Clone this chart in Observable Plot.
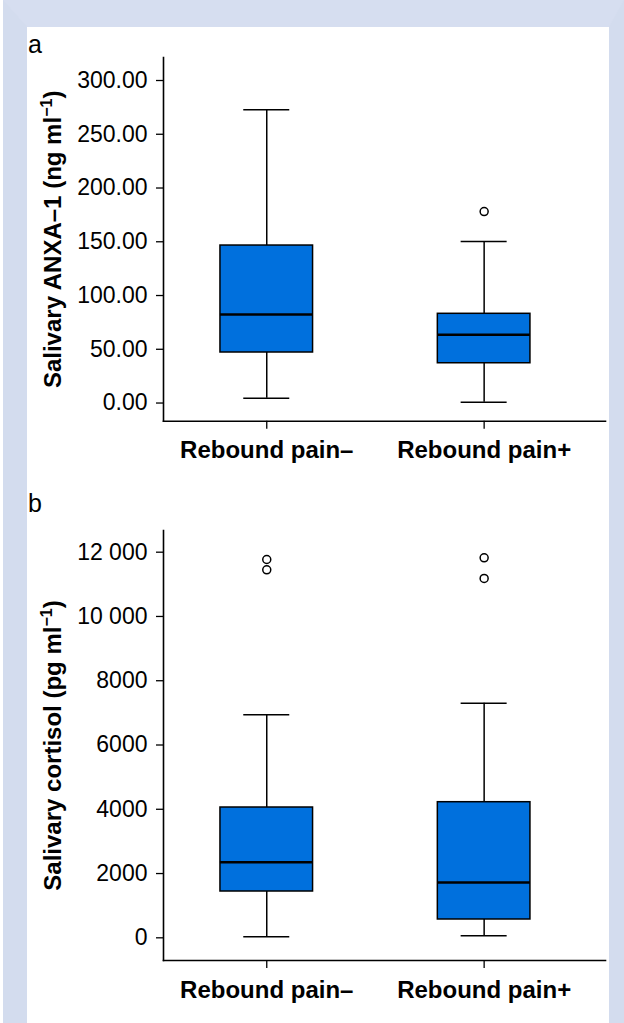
<!DOCTYPE html>
<html><head><meta charset="utf-8">
<script src="https://cdn.jsdelivr.net/npm/d3@7"></script>
<script src="https://cdn.jsdelivr.net/npm/@observablehq/plot@0.6"></script>
<style>
html,body{margin:0;padding:0;background:#fff;}
body{width:624px;height:1023px;position:relative;overflow:hidden;font-family:"Liberation Sans",Arial,sans-serif;}
#frame{position:absolute;left:3px;top:0;width:582px;height:996px;border-top:27px solid #d6def0;border-left:24px solid #d3dcee;border-right:15px solid #d3dcee;background:#fff;}
.panel-label{position:absolute;left:28px;font-size:25px;line-height:25px;color:#000;}
#chartA{position:absolute;left:0;top:40px;}
#chartB{position:absolute;left:0;top:520px;}
</style>
</head><body>
<div id="frame"></div>
<div class="panel-label" style="top:32.1px">a</div>
<div class="panel-label" style="top:490.5px">b</div>
<div id="chartA"></div>
<div id="chartB"></div>
<script>
// ---------- data ----------
const groups = ["Rebound pain–", "Rebound pain+"];

// Panel a: salivary ANXA-1 (ng/ml)
const anxaLow    = [4.5, 0.8];
const anxaQ1     = [47.0, 37.0];
const anxaMedian = [82.3, 63.4];
const anxaQ3     = [146.5, 83.0];
const anxaHigh   = [272.7, 150.2];
const anxaOutlierGroups = ["Rebound pain+"];
const anxaOutlierValues = [178.1];
const anxaTicks = [0, 50, 100, 150, 200, 250, 300];
const anxaLabel = ["Salivary ANXA–1 (ng ml", "−1", ")"];

// Panel b: salivary cortisol (pg/ml)
const cortLow    = [31, 62];
const cortQ1     = [1441, 570];
const cortMedian = [2353, 1721];
const cortQ3     = [4055, 4220];
const cortHigh   = [6940, 7301];
const cortOutlierGroups = ["Rebound pain–", "Rebound pain–", "Rebound pain+", "Rebound pain+"];
const cortOutlierValues = [11773, 11452, 11826, 11182];
const cortTicks = [0, 2000, 4000, 6000, 8000, 10000, 12000];
const cortLabel = ["Salivary cortisol (pg ml", "−1", ")"];

// ---------- helpers ----------
function makeTable(lo, q1, med, q3, hi) {
  return groups.map((g, i) => ({group: g, lo: lo[i], q1: q1[i], med: med[i], q3: q3[i], hi: hi[i]}));
}
function makeOutliers(gs, vs) {
  return gs.map((g, i) => ({group: g, value: vs[i]}));
}

function boxChart({table, outliers, domain, ticks, tickFormat, label, height, marginTop, marginBottom}) {
  const full = label.join("");
  const svg = Plot.plot({
    width: 624, height, marginLeft: 163, marginRight: 19, marginTop, marginBottom,
    style: {fontFamily: '"Liberation Sans", Arial, sans-serif', background: "transparent", color: "#000", overflow: "visible"},
    x: {type: "band", domain: groups, range: [163, 586.9], paddingInner: 0.574, paddingOuter: 0.262, align: 0.5, round: false, axis: null},
    y: {domain, axis: null},
    marks: [
      Plot.ruleX(table, {x: "group", y1: "lo", y2: "q1", stroke: "#000", strokeWidth: 1.5}),
      Plot.ruleX(table, {x: "group", y1: "q3", y2: "hi", stroke: "#000", strokeWidth: 1.5}),
      Plot.tickY(table, {x: "group", y: "lo", insetLeft: 23.3, insetRight: 23.3, stroke: "#000", strokeWidth: 1.5}),
      Plot.tickY(table, {x: "group", y: "hi", insetLeft: 23.3, insetRight: 23.3, stroke: "#000", strokeWidth: 1.5}),
      Plot.barY(table, {x: "group", y1: "q1", y2: "q3", fill: "#0070dd", stroke: "#000", strokeWidth: 1.5}),
      Plot.tickY(table, {x: "group", y: "med", stroke: "#000", strokeWidth: 2.5}),
      Plot.dot(outliers, {x: "group", y: "value", r: 4, stroke: "#000", strokeWidth: 1.5, fill: "#fff"}),
      Plot.axisY(ticks, {tickSize: 7, tickPadding: 9, tickFormat, fontSize: 23, strokeWidth: 1.3, label: null}),
      Plot.axisX({tickSize: 8, tickPadding: 12, fontSize: 24, fontWeight: "bold", strokeWidth: 1.3, label: null}),
      Plot.frame({anchor: "left", stroke: "#000", strokeWidth: 1.6}),
      Plot.frame({anchor: "bottom", stroke: "#000", strokeWidth: 1.6}),
      Plot.text([full], {frameAnchor: "left", rotate: -90, dx: -103, textAnchor: "middle", lineAnchor: "bottom", fontSize: 24, fontWeight: "bold", fill: "#000"})
    ]
  });
  // superscript for the unit exponent
  svg.querySelectorAll("text").forEach(t => {
    if (t.textContent === full) {
      while (t.firstChild) t.removeChild(t.firstChild);
      const ns = "http://www.w3.org/2000/svg";
      const a = document.createElementNS(ns, "tspan"); a.textContent = label[0];
      const b = document.createElementNS(ns, "tspan"); b.textContent = label[1];
      b.setAttribute("font-size", "16"); b.setAttribute("dy", "-9");
      const c = document.createElementNS(ns, "tspan"); c.textContent = label[2];
      c.setAttribute("dy", "9");
      t.appendChild(a); t.appendChild(b); t.appendChild(c);
    }
  });
  return svg;
}

document.getElementById("chartA").appendChild(boxChart({
  table: makeTable(anxaLow, anxaQ1, anxaMedian, anxaQ3, anxaHigh),
  outliers: makeOutliers(anxaOutlierGroups, anxaOutlierValues),
  domain: [-16.9, 321.4],
  ticks: anxaTicks,
  tickFormat: d => d.toFixed(2),
  label: anxaLabel,
  height: 440, marginTop: 17, marginBottom: 59.3
}));

document.getElementById("chartB").appendChild(boxChart({
  table: makeTable(cortLow, cortQ1, cortMedian, cortQ3, cortHigh),
  outliers: makeOutliers(cortOutlierGroups, cortOutlierValues),
  domain: [-706, 12675],
  ticks: cortTicks,
  tickFormat: d => d >= 10000 ? d3.format(",")(d).replace(/,/g, " ") : String(d),
  label: cortLabel,
  height: 503, marginTop: 10, marginBottom: 63
}));
</script>
</body></html>
